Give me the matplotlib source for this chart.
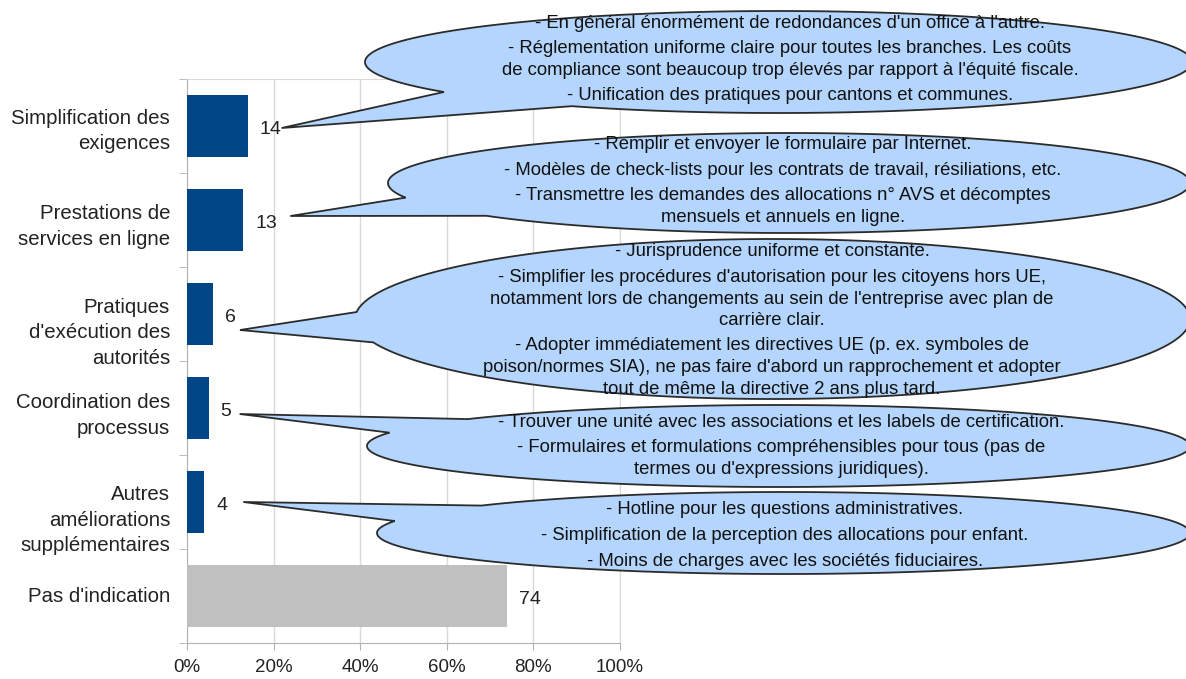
import numpy as np
import matplotlib
matplotlib.use("Agg")
import matplotlib.pyplot as plt
from matplotlib.patches import Polygon

# ---------------- data ----------------
categories = ["Simplification des\nexigences",
              "Prestations de\nservices en ligne",
              "Pratiques\nd'exécution des\nautorités",
              "Coordination des\nprocessus",
              "Autres\naméliorations\nsupplémentaires",
              "Pas d'indication"]
values = [14, 13, 6, 5, 4, 74]
xticks = [0, 20, 40, 60, 80, 100]
xtick_labels = ["0%", "20%", "40%", "60%", "80%", "100%"]

comments = [
    [["- En général énormément de redondances d'un office à l'autre."],
     ["- Réglementation uniforme claire pour toutes les branches. Les coûts",
      "de compliance sont beaucoup trop élevés par rapport à l'équité fiscale."],
     ["- Unification des pratiques pour cantons et communes."]],
    [["- Remplir et envoyer le formulaire par Internet."],
     ["- Modèles de check-lists pour les contrats de travail, résiliations, etc."],
     ["- Transmettre les demandes des allocations n° AVS et décomptes",
      "mensuels et annuels en ligne."]],
    [["- Jurisprudence uniforme et constante."],
     ["- Simplifier les procédures d'autorisation pour les citoyens hors UE,",
      "notamment lors de changements au sein de l'entreprise avec plan de",
      "carrière clair."],
     ["- Adopter immédiatement les directives UE (p. ex. symboles de",
      "poison/normes SIA), ne pas faire d'abord un rapprochement et adopter",
      "tout de même la directive 2 ans plus tard."]],
    [["- Trouver une unité avec les associations et les labels de certification."],
     ["- Formulaires et formulations compréhensibles pour tous (pas de",
      "termes ou d'expressions juridiques)."]],
    [["- Hotline pour les questions administratives."],
     ["- Simplification de la perception des allocations pour enfant."],
     ["- Moins de charges avec les sociétés fiduciaires."]],
]

# ---------------- style / layout ----------------
W, H = 1186, 679
bar_colors = ["#004586"] * 5 + ["#c0c0c0"]
bubble_fill = "#b4d5fd"
bubble_edge = "#2b2b2b"
label_font = ["Liberation Sans", "DejaVu Sans"]
bubble_font = ["Liberation Sans", "DejaVu Sans"]

# ellipse geometry in figure pixels (cx, cy, rx, ry), tail angles (deg), tail tip offsets
ellipses = [(778.5, 62, 413.5, 51), (789, 183, 401, 50), (772.5, 319, 417.5, 80),
            (778.5, 446, 411.5, 41), (783.5, 533, 406.5, 41)]
tail_angles = [(216, 240), (197, 221), (175, 197), (139, 161), (138, 163)]
tip_offsets = [(34, 2), (47, -4), (27, 16), (31, 6), (39, 0)]
text_centers = [(790, 59.5), (783, 181), (772, 320.5), (781, 446), (785, 535.5)]
label_shift = [5, 6.5, 19, 7.5, 18, 1]   # downward shift of category labels (px)
line_step = 21.5
item_gap = 4

fig = plt.figure(figsize=(W / 100, H / 100), dpi=100)
fig.patch.set_facecolor("white")
ax = fig.add_axes([187 / W, 1 - 643 / H, (620 - 187) / W, (643 - 79) / H])

n = len(categories)
ypos = np.arange(n)
ax.barh(ypos, values, height=0.66, color=bar_colors, zorder=3)
ax.set_xlim(0, 100)
ax.set_ylim(n - 0.5, -0.5)

for y, v in zip(ypos, values):
    ax.annotate(f"{v}", (v, y), xytext=(12, -3), textcoords="offset pixels",
                ha="left", va="center", fontsize=14, family=label_font,
                color="#222222")

# category labels (placed as text so they can be nudged like the original)
for y, lab, s in zip(ypos, categories, label_shift):
    ax.annotate(lab, (0, y), xytext=(-17, -s), textcoords="offset pixels",
                ha="right", va="center", multialignment="right",
                fontsize=14.7, family=label_font, color="#222222",
                linespacing=1.42, annotation_clip=False)

ax.set_xticks(xticks)
ax.set_xticklabels(xtick_labels, fontsize=13.5, family=label_font, color="#222222")
ax.set_yticks([])
ax.set_yticks(np.arange(n + 1) - 0.5, minor=True)
ax.tick_params(axis="y", which="minor", length=6, color="#b3b3b3", labelleft=False)
ax.tick_params(axis="x", which="major", length=5, color="#b3b3b3", pad=6.5)
ax.grid(axis="x", color="#d9d9d9", linewidth=1, zorder=0)
for s in ["top", "right"]:
    ax.spines[s].set_color("#d9d9d9")
for s in ["left", "bottom"]:
    ax.spines[s].set_color("#b3b3b3")

# ---------------- callout bubbles ----------------
ov = fig.add_axes([0, 0, 1, 1], zorder=5)
ov.set_xlim(0, W)
ov.set_ylim(H, 0)
ov.axis("off")
ov.patch.set_alpha(0)

for i, items in enumerate(comments):
    cx, cy, rx, ry = ellipses[i]
    ta, tb = tail_angles[i]
    dx, dy = tip_offsets[i]
    px, py = ax.transData.transform((values[i], ypos[i]))
    tip = (px + dx, H - py + dy)
    t = np.radians(np.linspace(tb, ta + 360, 500))
    pts = np.column_stack([cx + rx * np.cos(t), cy - ry * np.sin(t)])
    poly = np.vstack([[tip], pts])
    ov.add_patch(Polygon(poly, closed=True, facecolor=bubble_fill,
                         edgecolor=bubble_edge, linewidth=1.3, zorder=1))
    lines = []
    for k, item in enumerate(items):
        for j, line in enumerate(item):
            lines.append((line, k))
    nl = len(lines)
    total = (nl - 1) * line_step + (len(items) - 1) * item_gap
    tx, tyc = text_centers[i]
    y = tyc - total / 2
    prev = None
    for line, k in lines:
        if prev is not None and k != prev:
            y += item_gap
        ov.text(tx, y, line, ha="center", va="center", fontsize=13.3,
                family=bubble_font, color="#111111", zorder=2)
        y += line_step
        prev = k

fig.savefig("out.png", dpi=100)
